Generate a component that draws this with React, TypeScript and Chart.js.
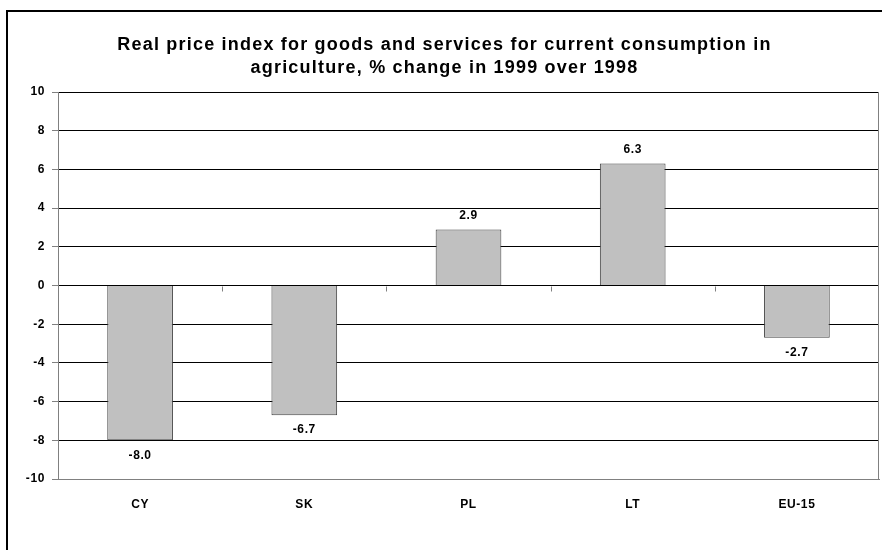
import React, { useEffect, useRef } from "react";
import { Chart, registerables } from "chart.js";

Chart.register(...registerables);

const categories = ["CY", "SK", "PL", "LT", "EU-15"];
const values = [-8.0, -6.7, 2.9, 6.3, -2.7];
const titleLines = [
  "Real price index for goods and services for current consumption in",
  "agriculture, % change in 1999 over 1998",
];
const yMin = -10;
const yMax = 10;
const yStep = 2;

const FONT = "'Liberation Sans', Arial, sans-serif";

const framePlugin = {
  id: "frame",
  beforeDraw(chart: any) {
    const ctx = chart.ctx;
    ctx.fillStyle = "#fff";
    ctx.fillRect(0, 0, chart.width, chart.height);
    ctx.save();
    ctx.strokeStyle = "#000";
    ctx.lineWidth = 2;
    ctx.beginPath();
    ctx.moveTo(7, chart.height + 5);
    ctx.lineTo(7, 11);
    ctx.lineTo(chart.width + 5, 11);
    ctx.stroke();
    // title
    ctx.fillStyle = "#000";
    ctx.font = `bold 18px ${FONT}`;
    (ctx as any).letterSpacing = "1.2px";
    ctx.textAlign = "center";
    ctx.textBaseline = "middle";
    const cx = (7 + chart.width) / 2;
    titleLines.forEach((t, i) => ctx.fillText(t, cx, 45 + i * 23));
    ctx.restore();
    (ctx as any).letterSpacing = "0.6px";
  },
  afterDatasetsDraw(chart: any) {
    const ctx = chart.ctx;
    const a = chart.chartArea;
    const ys = chart.scales.y;
    const xs = chart.scales.x;
    ctx.save();
    ctx.strokeStyle = "#808080";
    ctx.lineWidth = 1;
    ctx.beginPath();
    ctx.moveTo(Math.round(a.right) - 0.5, a.top);
    ctx.lineTo(Math.round(a.right) - 0.5, a.bottom);
    ctx.stroke();
    const y0 = Math.round(ys.getPixelForValue(0)) + 0.5;
    ctx.beginPath();
    for (let i = 1; i < categories.length; i++) {
      const x = Math.round((xs.getPixelForValue(i - 1) + xs.getPixelForValue(i)) / 2) + 0.5;
      ctx.moveTo(x, y0);
      ctx.lineTo(x, y0 + 5);
    }
    ctx.stroke();
    ctx.fillStyle = "#000";
    ctx.font = `bold 12px ${FONT}`;
    ctx.textAlign = "center";
    ctx.textBaseline = "middle";
    const meta = chart.getDatasetMeta(0);
    meta.data.forEach((bar: any, i: number) => {
      const v = values[i];
      const y = v >= 0 ? bar.y - 14 : bar.y + 15;
      ctx.fillText(v.toFixed(1), bar.x, y);
    });
    ctx.restore();
  },
};

export default function App() {
  const ref = useRef<HTMLCanvasElement>(null);
  useEffect(() => {
    const chart = new Chart(ref.current!, {
      type: "bar",
      data: {
        labels: categories,
        datasets: [
          {
            data: values,
            backgroundColor: "#C0C0C0",
            borderColor: "#404040",
            borderWidth: 1,
            categoryPercentage: 1,
            barPercentage: 0.4,
          },
        ],
      },
      options: {
        animation: false,
        responsive: false,
        devicePixelRatio: 1,
        layout: { padding: { top: 92, right: 3, left: 0, bottom: 0 } },
        plugins: { legend: { display: false }, tooltip: { enabled: false }, title: { display: false } },
        scales: {
          x: {
            grid: { display: false },
            border: { color: "#808080", width: 1 },
            ticks: { color: "#000", font: { family: FONT, size: 12, weight: "bold" }, padding: 10 },
            afterFit(s: any) {
              s.height = 71;
            },
          },
          y: {
            min: yMin,
            max: yMax,
            ticks: {
              stepSize: yStep,
              color: "#000",
              padding: 7,
              font: { family: FONT, size: 12, weight: "bold" },
            },
            grid: { color: "#000", tickColor: "#808080", tickLength: 6, lineWidth: 1 },
            border: { color: "#808080", width: 1 },
            afterFit(s: any) {
              s.width = 58;
            },
          },
        },
      },
      plugins: [framePlugin],
    });
    return () => chart.destroy();
  }, []);
  return (
    <div style={{ position: "fixed", left: 0, top: 0, width: 882, height: 550 }}>
      <canvas ref={ref} width={882} height={550} style={{ display: "block" }} />
    </div>
  );
}
